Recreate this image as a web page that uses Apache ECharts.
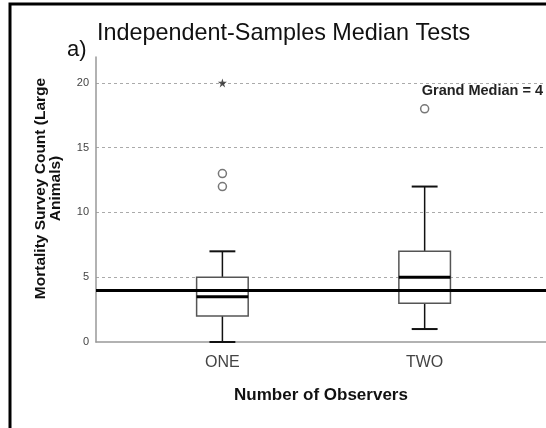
<!DOCTYPE html>
<html>
<head>
<meta charset="utf-8">
<script src="https://cdn.jsdelivr.net/npm/echarts@6/dist/echarts.min.js"></script>
<style>html,body{margin:0;padding:0;background:#fff;}#c{width:546px;height:428px;}</style>
</head>
<body>
<div id="c"></div>
<script>
const categories = ['ONE', 'TWO'];
const catPos = [1, 2];
const whiskerLow = [0, 1];
const q1 = [2, 3];
const medians = [3.5, 5];
const q3 = [5, 7];
const whiskerHigh = [7, 12];
const outliers = [[1, 12], [1, 13], [2, 18]];
const extremes = [[1, 20]];
const grandMedian = 4;
const yTicks = [0, 5, 10, 15, 20];

const boxData = categories.map((c, i) => [catPos[i], whiskerLow[i], q1[i], medians[i], q3[i], whiskerHigh[i]]);
const FONT = 'Liberation Sans';

const chart = echarts.init(document.getElementById('c'), null, {renderer: 'canvas'});
chart.setOption({
  animation: false,
  backgroundColor: '#fff',
  title: [
    {text: 'Independent-Samples Median Tests', left: 97, top: 22, padding: 0,
     textStyle: {fontFamily: FONT, fontSize: 23.4, fontWeight: 'normal', color: '#111'}},
    {text: 'a)', left: 67, top: 39, padding: 0,
     textStyle: {fontFamily: FONT, fontSize: 22, fontWeight: 'normal', color: '#111'}},
    {text: 'Grand Median = 4', right: 3, top: 83, padding: 0,
     textStyle: {fontFamily: FONT, fontSize: 14.5, fontWeight: 'bold', color: '#222'}}
  ],
  grid: {left: 96, right: 0, top: 57, bottom: 86, containLabel: false},
  xAxis: {
    type: 'value', min: 0.375, max: 2.6,
    name: 'Number of Observers', nameLocation: 'middle', nameGap: 45,
    nameTextStyle: {fontFamily: FONT, fontSize: 17, fontWeight: 'bold', color: '#111'},
    axisLine: {show: true, lineStyle: {color: '#999', width: 1.5}},
    axisTick: {show: false},
    splitLine: {show: false},
    axisLabel: {customValues: catPos, margin: 13, fontFamily: FONT, fontSize: 16, color: '#444',
      formatter: v => categories[catPos.indexOf(Math.round(v))] || ''}
  },
  yAxis: {
    type: 'value', min: 0, max: 22,
    name: 'Mortality Survey Count (Large\nAnimals)', nameLocation: 'middle', nameGap: 33,
    nameTextStyle: {fontFamily: FONT, fontSize: 15.5, fontWeight: 'bold', color: '#111', lineHeight: 15, align: 'center', padding: [0, 0, 0, 22]},
    axisLine: {show: true, lineStyle: {color: '#999', width: 1.5}},
    axisTick: {show: false},
    axisLabel: {customValues: yTicks, margin: 7, fontFamily: FONT, fontSize: 11, color: '#444'},
    splitLine: {show: true, showMinLine: false, showMaxLine: false, lineStyle: {color: '#aaa', type: [3, 3], width: 1}}
  },
  graphic: [
    {type: 'rect', shape: {x: 10, y: 4, width: 540, height: 430}, style: {fill: null, stroke: '#000', lineWidth: 3}, silent: true, z: 100}
  ],
  series: [
    {
      type: 'custom',
      data: boxData,
      encode: {x: 0, y: [1, 2, 3, 4, 5]},
      renderItem: function (params, api) {
        const x = api.value(0);
        const bw = 0.1275, cw = 0.064;
        const p = (xx, yy) => api.coord([xx, yy]);
        const lo = api.value(1), a = api.value(2), m = api.value(3), b = api.value(4), hi = api.value(5);
        const tl = p(x - bw, b), br = p(x + bw, a);
        const thin = {stroke: '#111', lineWidth: 1.5};
        return {
          type: 'group',
          children: [
            {type: 'line', shape: {x1: p(x, hi)[0], y1: p(x, hi)[1], x2: p(x, b)[0], y2: p(x, b)[1]}, style: thin},
            {type: 'line', shape: {x1: p(x, lo)[0], y1: p(x, lo)[1], x2: p(x, a)[0], y2: p(x, a)[1]}, style: thin},
            {type: 'line', shape: {x1: p(x - cw, hi)[0], y1: p(x, hi)[1], x2: p(x + cw, hi)[0], y2: p(x, hi)[1]}, style: {stroke: '#111', lineWidth: 2}},
            {type: 'line', shape: {x1: p(x - cw, lo)[0], y1: p(x, lo)[1], x2: p(x + cw, lo)[0], y2: p(x, lo)[1]}, style: {stroke: '#111', lineWidth: 2}},
            {type: 'rect', shape: {x: tl[0], y: tl[1], width: br[0] - tl[0], height: br[1] - tl[1]}, style: {fill: null, stroke: '#555', lineWidth: 1.5}},
            {type: 'line', shape: {x1: tl[0], y1: p(x, m)[1], x2: br[0], y2: p(x, m)[1]}, style: {stroke: '#000', lineWidth: 3}}
          ]
        };
      },
      z: 3
    },
    {
      type: 'scatter', data: outliers, symbol: 'circle', symbolSize: 8,
      itemStyle: {color: '#fff', borderColor: '#555', borderWidth: 1.5}, z: 4,
      markLine: {
        silent: true, symbol: 'none', animation: false,
        lineStyle: {color: '#000', width: 3, type: 'solid'},
        label: {show: false},
        data: [{yAxis: grandMedian}]
      }
    },
    {
      type: 'scatter', data: extremes,
      symbol: 'path://M50,0 L61,35 L98,35 L68,57 L79,91 L50,70 L21,91 L32,57 L2,35 L39,35 Z',
      symbolSize: 9, itemStyle: {color: '#222'}, z: 4
    }
  ]
});
</script>
</body>
</html>
